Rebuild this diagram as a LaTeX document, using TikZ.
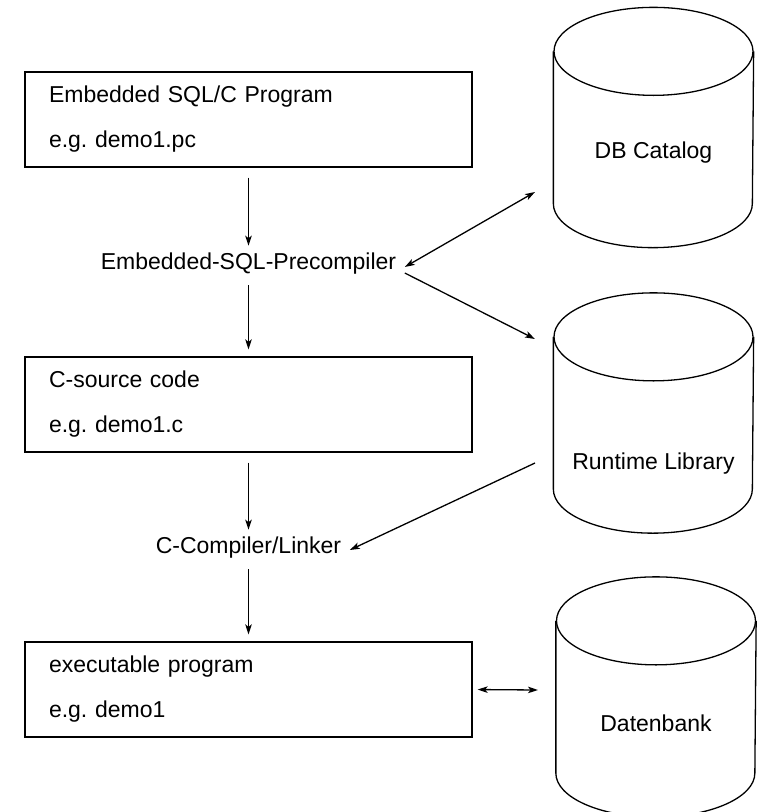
\documentclass[tikz,border=0pt]{standalone}
\usepackage{fontspec}
\setmainfont{Liberation Sans}
\usetikzlibrary{arrows.meta}
\tikzset{
  stage/.style={draw,text width=399pt,inner xsep=24pt,minimum height=95pt,align=left,
    font=\fontsize{23}{45}\selectfont\frenchspacing},
  tool/.style={inner sep=0pt},
  store/.style={minimum width=199pt,minimum height=239pt,inner sep=0pt},
  flow/.style={-{Stealth[length=10pt,width=6.5pt,inset=2.5pt]},shorten <=10pt,shorten >=7pt},
  both/.style={{Stealth[length=10pt,width=6.5pt,inset=2.5pt]}-{Stealth[length=10pt,width=6.5pt,inset=2.5pt]}},
  toward/.style={-{Stealth[length=10pt,width=6.5pt,inset=2.5pt]}}
}
% cylinder drawn round a named store node
\newcommand{\drum}[1]{%
  \draw ([yshift=-44pt]#1.north west) -- ([yshift=44pt]#1.south west)
    arc[start angle=180,end angle=360,x radius=99.5pt,y radius=44pt]
    -- ([yshift=-44pt]#1.north east);
  \draw ([yshift=-44pt]#1.north) ellipse [x radius=99.5pt,y radius=44pt];}
\begin{document}
\begin{tikzpicture}[x=1pt,y=-1pt,line width=1.3pt,font=\fontsize{23}{28}\selectfont]
  \useasboundingbox (0,0) rectangle (758,812);
  %\draw[red] (0,0) rectangle (758,812);
  \node (src) [stage] at (248.5,119.5) {Embedded SQL/C Program\\e.g. demo1.pc};
  \node (pre) [tool] at (248.5,264) {Embedded-SQL-Precompiler};
  \node (csrc) [stage] at (248.5,404.5) {C-source code\\e.g. demo1.c};
  \node (lnk) [tool] at (248.5,548) {C-Compiler/Linker};
  \node (exe) [stage] at (248.5,689.5) {executable program\\e.g. demo1};
  \node (cat) [store] at (653.5,127.5) {};
  \node (lib) [store] at (653.5,413) {};
  \node (db) [store] at (656,697) {};
  \drum{cat} \drum{lib} \drum{db}
  \node (catlbl) at (653.5,153) {DB Catalog};
  \node (liblbl) at (653.5,464) {Runtime Library};
  \node (dblbl) at (656,723) {Datenbank};
  \coordinate (catin) at (535,192);
  \coordinate (libin) at (535,339);
  \coordinate (libout) at (535,463);
  \coordinate (dbin) at (538,690);
  \draw[flow] (src) -- (pre);
  \draw[flow] (pre) -- (csrc);
  \draw[flow] (csrc) -- (lnk);
  \draw[flow] (lnk) -- (exe);
  \draw[both] ([xshift=8pt,yshift=-3pt]pre.east) -- (catin);
  \draw[toward] ([xshift=8pt,yshift=-9pt]pre.east) -- (libin);
  \draw[toward] (libout) -- ([xshift=8pt,yshift=-2pt]lnk.east);
  \draw[both,shorten <=5pt] (exe.east) -- (dbin);
\end{tikzpicture}
\end{document}
